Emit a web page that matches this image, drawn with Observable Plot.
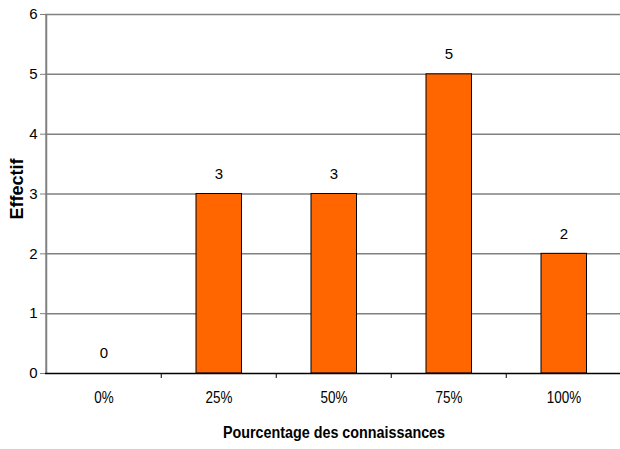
<!DOCTYPE html>
<html><head><meta charset="utf-8">
<script src="https://cdn.jsdelivr.net/npm/d3@7"></script>
<script src="https://cdn.jsdelivr.net/npm/@observablehq/plot@0.6"></script>
<style>
body{margin:0;background:#fff;}
svg{font-family:Arial,"Liberation Sans",sans-serif;}
</style></head><body><div id="chart"></div>
<script>
const categories = ["0%","25%","50%","75%","100%"];
const values = [0,3,3,5,2];
const yTicks = [0,1,2,3,4,5,6];
const xTitle = "Pourcentage des connaissances";
const yTitle = "Effectif";
const data = categories.map((c,i)=>({cat:c, v:values[i]}));

const chart = Plot.plot({
  width: 620, height: 449,
  marginTop: 14, marginBottom: 76, marginLeft: 45, marginRight: -2,
  style: {fontFamily: "Arial, 'Liberation Sans', sans-serif", background: "#fff"},
  x: {domain: categories, padding: 0, label: null},
  y: {domain: [0,6], ticks: yTicks, label: null},
  marks: [
    Plot.gridY(yTicks.filter(d=>d>0), {stroke: "#808080", strokeOpacity: 1, strokeWidth: 1.5}),
    Plot.barY(data, {x: "cat", y: "v", fill: "#FF6600", stroke: "#000", strokeWidth: 1, insetLeft: 35, insetRight: 34.5}),
    Plot.text(data, {x: "cat", y: "v", text: d=>String(d.v), dy: -20, fontSize: 15, fill: "#000"}),
    Plot.ruleX([categories[0]], {dx: -57.75, y1: 0, y2: 6, stroke: "#808080", strokeWidth: 2}),
    Plot.axisY({ticks: yTicks, tickFormat: "d", tickSize: 5, tickPadding: 3, fontSize: 15, stroke: "#808080", fill: "#000", label: null}),
    Plot.axisX({tickSize: 0, tickPadding: 18, fontSize: 16, fill: "#000", label: null}),
    Plot.ruleY([0], {stroke: "#000", strokeWidth: 1.5}),
    Plot.ruleX(categories.slice(1), {x: d=>d, dx: -57.75, y1: 0, y2: 0, insetBottom: -5, stroke: "#000", strokeWidth: 1}),
    Plot.text([yTitle], {frameAnchor: "left", textAnchor: "middle", dx: -28, dy: -5, rotate: -90, text: d=>d, fontSize: 18, fontWeight: "bold", fill: "#000"}),
    Plot.text([xTitle], {frameAnchor: "bottom", lineAnchor: "middle", dy: 59, text: d=>d, fontSize: 16, fontWeight: "bold", fill: "#000"})
  ]
});
document.getElementById("chart").appendChild(chart);
d3.select(chart).selectAll("text").each(function() {
  const t = this.textContent;
  let factor = 0;
  if (categories.includes(t)) factor = 0.84;
  else if (t === xTitle) factor = 0.895;
  if (factor) {
    const w = this.getComputedTextLength();
    if (w > 0) {
      this.setAttribute("textLength", (w * factor).toFixed(1));
      this.setAttribute("lengthAdjust", "spacingAndGlyphs");
    }
  }
});
</script></body></html>
